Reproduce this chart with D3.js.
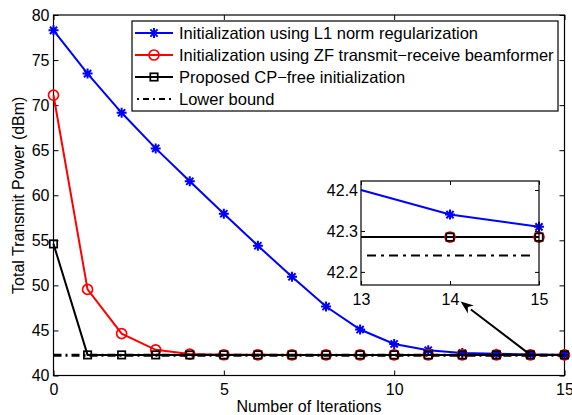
<!DOCTYPE html>
<html><head><meta charset="utf-8">
<script src="https://cdn.jsdelivr.net/npm/d3@7"></script>
<style>body{margin:0;background:#fff}svg{display:block}text{font-family:"Liberation Sans",Arial,Helvetica,sans-serif;fill:#000}</style>
</head><body><svg id="c" width="572" height="415"></svg>
<script>
// ---- data ----
const iterations = [0,1,2,3,4,5,6,7,8,9,10,11,12,13,14,15];
const l1Init   = [78.3,73.5,69.15,65.2,61.55,57.95,54.4,50.95,47.65,45.1,43.5,42.8,42.5,42.4,42.34,42.31];
const zfInit   = [71.1,49.55,44.65,42.85,42.38,42.3,42.29,42.285,42.285,42.285,42.285,42.285,42.285,42.285,42.285,42.285];
const cpFree   = [54.6,42.285,42.285,42.285,42.285,42.285,42.285,42.285,42.285,42.285,42.285,42.285,42.285,42.285,42.285,42.285];
const lowerBound = 42.24;
const xTicks = [0,5,10,15];
const yTicks = [40,45,50,55,60,65,70,75,80];
const insetXTicks = [13,14,15];
const insetYTicks = [42.2,42.3,42.4];
const legendLabels = ["Initialization using L1 norm regularization","Initialization using ZF transmit\u2212receive beamformer","Proposed CP\u2212free initialization","Lower bound"];
const arrowFrom = [14,42.285], arrowTo = [11.95,48.2];

// ---- layout ----
const svg = d3.select("#c");
const L=53.5,R=564.5,T=15,B=375.5;
const x = d3.scaleLinear([0,15],[L,R]);
const y = d3.scaleLinear([40,80],[B,T]);
const FS = "16px";

const series = [
  {vals:l1Init, color:"#0000ff", marker:"star"},
  {vals:zfInit, color:"#ff0000", marker:"circle"},
  {vals:cpFree, color:"#000000", marker:"square"}
];

function drawMarker(g, type, color, px, py){
  if(type==="star"){
    const s=5, d=3.6;
    g.append("path").attr("d",`M${px-s},${py}L${px+s},${py}M${px},${py-s}L${px},${py+s}M${px-d},${py-d}L${px+d},${py+d}M${px-d},${py+d}L${px+d},${py-d}`)
      .attr("stroke",color).attr("stroke-width",2).attr("fill","none");
  } else if(type==="circle"){
    g.append("circle").attr("cx",px).attr("cy",py).attr("r",5).attr("fill","none").attr("stroke",color).attr("stroke-width",1.7);
  } else {
    g.append("rect").attr("x",px-3.7).attr("y",py-3.7).attr("width",7.4).attr("height",7.4).attr("fill","none").attr("stroke",color).attr("stroke-width",1.7);
  }
}

// axes box and ticks
const gx = svg.append("g").attr("transform",`translate(0,${B})`)
  .call(d3.axisBottom(x).tickValues(xTicks).tickSizeInner(-5).tickSizeOuter(0).tickPadding(6).tickFormat(d3.format("d")));
const gxt = svg.append("g").attr("transform",`translate(0,${T})`)
  .call(d3.axisTop(x).tickValues(xTicks).tickSizeInner(-5).tickSizeOuter(0).tickFormat(""));
const gy = svg.append("g").attr("transform",`translate(${L},0)`)
  .call(d3.axisLeft(y).tickValues(yTicks).tickSizeInner(-5).tickSizeOuter(0).tickPadding(4).tickFormat(d3.format("d")));
const gyr = svg.append("g").attr("transform",`translate(${R},0)`)
  .call(d3.axisRight(y).tickValues(yTicks).tickSizeInner(-5).tickSizeOuter(0).tickFormat(""));
[gx,gxt,gy,gyr].forEach(g=>{g.select(".domain").remove();g.selectAll("line").attr("stroke","#000");g.selectAll("text").style("font-size",FS).attr("font-family",null);});
gx.selectAll("text").attr("dy","0.85em");
svg.append("rect").attr("x",L).attr("y",T).attr("width",R-L).attr("height",B-T).attr("fill","none").attr("stroke","#000").attr("stroke-width",1.2);

// series
const line = d3.line().x((d,i)=>x(iterations[i])).y(d=>y(d));
series.forEach(s=>{
  svg.append("path").datum(s.vals).attr("d",line).attr("fill","none").attr("stroke",s.color).attr("stroke-width",2);
  const g = svg.append("g");
  s.vals.forEach((v,i)=>drawMarker(g,s.marker,s.color,x(iterations[i]),y(v)));
});
svg.append("line").attr("x1",x(0)).attr("x2",x(15)).attr("y1",y(lowerBound)).attr("y2",y(lowerBound))
  .attr("stroke","#000").attr("stroke-width",3).attr("stroke-dasharray","8,4,2,4");

// labels
svg.append("text").attr("x",(L+R)/2).attr("y",412).attr("text-anchor","middle").style("font-size",FS).text("Number of Iterations");
svg.append("text").attr("transform",`translate(24,${(T+B)/2}) rotate(-90)`).attr("text-anchor","middle").style("font-size",FS).text("Total Transmit Power (dBm)");

// legend
const lg = svg.append("g");
lg.append("rect").attr("x",132).attr("y",21).attr("width",426).attr("height",90).attr("fill","#fff").attr("stroke","#000").attr("stroke-width",1.2);
const legItems = [...series.map(s=>({color:s.color,marker:s.marker})),{color:"#000",marker:null}];
legItems.forEach((it,i)=>{
  const cy = 33+i*22;
  const ln = lg.append("line").attr("x1",135).attr("x2",173).attr("y1",cy).attr("y2",cy).attr("stroke",it.color).attr("stroke-width",2);
  if(it.marker) drawMarker(lg,it.marker,it.color,154,cy);
  else ln.attr("stroke-dasharray","2,4,6,4").attr("stroke-dashoffset",-2);
  lg.append("text").attr("x",179).attr("y",cy+6).style("font-size","16.5px").text(legendLabels[i]);
});

// inset
const iL=361,iR=539,iT=181,iB=285;
const xi = d3.scaleLinear([13,15],[iL,iR]);
const yi = d3.scaleLinear([42.168,42.422],[iB,iT]);
const ig = svg.append("g");
ig.append("rect").attr("x",iL).attr("y",iT).attr("width",iR-iL).attr("height",iB-iT).attr("fill","#fff");
const ia = ig.append("g").attr("transform",`translate(0,${iB})`)
  .call(d3.axisBottom(xi).tickValues(insetXTicks).tickSizeInner(-4).tickSizeOuter(0).tickPadding(6).tickFormat(d3.format("d")));
const ia2 = ig.append("g").attr("transform",`translate(${iL},0)`)
  .call(d3.axisLeft(yi).tickValues(insetYTicks).tickSizeInner(-4).tickSizeOuter(0).tickPadding(3).tickFormat(d3.format(".1f")));
const ia3 = ig.append("g").attr("transform",`translate(${iR},0)`)
  .call(d3.axisRight(yi).tickValues(insetYTicks).tickSizeInner(-4).tickSizeOuter(0).tickFormat(""));
const ia4 = ig.append("g").attr("transform",`translate(0,${iT})`)
  .call(d3.axisTop(xi).tickValues(insetXTicks).tickSizeInner(-4).tickSizeOuter(0).tickFormat(""));
[ia,ia2,ia3,ia4].forEach(g=>{g.select(".domain").remove();g.selectAll("line").attr("stroke","#000");g.selectAll("text").style("font-size",FS).attr("font-family",null);});
ia.selectAll("text").attr("dy","0.85em");
const idx = iterations.map((d,i)=>i).filter(i=>iterations[i]>=13);
series.forEach(s=>{
  const iline = d3.line().x(i=>xi(iterations[i])).y(i=>yi(s.vals[i]));
  ig.append("path").attr("d",iline(idx)).attr("fill","none").attr("stroke",s.color).attr("stroke-width",2);
});
series.forEach(s=>{
  const g = ig.append("g");
  idx.filter(i=>iterations[i]>13).forEach(i=>drawMarker(g,s.marker,s.color,xi(iterations[i]),yi(s.vals[i])));
});
ig.append("line").attr("x1",xi(13)+6).attr("x2",xi(15)-6).attr("y1",yi(lowerBound)).attr("y2",yi(lowerBound))
  .attr("stroke","#000").attr("stroke-width",2).attr("stroke-dasharray","9,5,3,5");
ig.append("rect").attr("x",iL).attr("y",iT).attr("width",iR-iL).attr("height",iB-iT).attr("fill","none").attr("stroke","#000").attr("stroke-width",1.2);

// arrow
const ax1=x(arrowFrom[0]), ay1=y(arrowFrom[1]), ax2=x(arrowTo[0]), ay2=y(arrowTo[1]);
const ang = Math.atan2(ay2-ay1, ax2-ax1);
const hl=13, hw=5;
const bx = ax2-hl*Math.cos(ang), by = ay2-hl*Math.sin(ang);
svg.append("line").attr("x1",ax1).attr("y1",ay1).attr("x2",bx).attr("y2",by).attr("stroke","#000").attr("stroke-width",2);
svg.append("path").attr("d",`M${ax2},${ay2}L${bx+hw*Math.sin(ang)},${by-hw*Math.cos(ang)}L${ax2-0.7*hl*Math.cos(ang)},${ay2-0.7*hl*Math.sin(ang)}L${bx-hw*Math.sin(ang)},${by+hw*Math.cos(ang)}Z`).attr("fill","#000");
</script></body></html>
